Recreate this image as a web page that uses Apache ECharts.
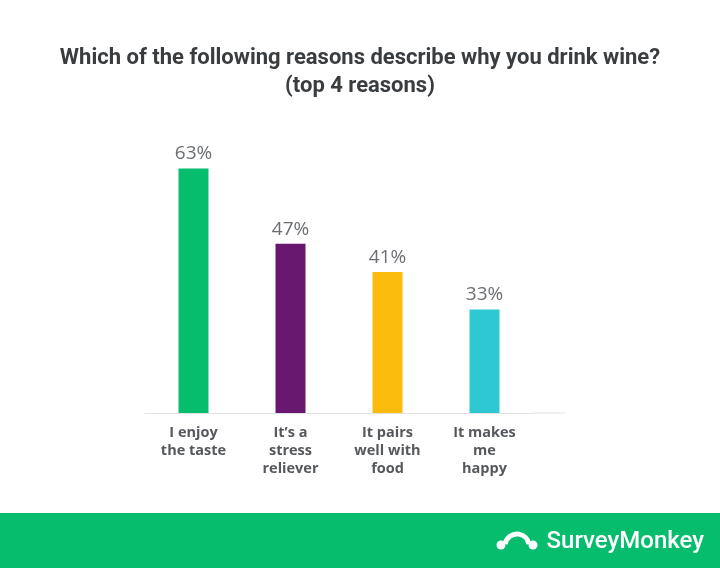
<!DOCTYPE html>
<html>
<head>
<meta charset="utf-8">
<script src="https://cdn.jsdelivr.net/npm/echarts@6/dist/echarts.min.js"></script>
<style>
  html, body { margin: 0; padding: 0; background: #fff; }
  #main { width: 720px; height: 568px; }
</style>
</head>
<body>
<div id="main"></div>
<script>
var categories = ['I enjoy\nthe taste', 'It\u2019s a\nstress\nreliever', 'It pairs\nwell with\nfood', 'It makes\nme\nhappy'];
var values = [63, 47, 41, 33];
var barColors = ['#06bd6e', '#68196f', '#fbbb0c', '#2ec8d2'];

var chartDom = document.getElementById('main');
var myChart = echarts.init(chartDom);
var option;

option = {
    backgroundColor: '#fff',
    animation: false,
    title: {
        text: 'Which of the following reasons describe why you drink wine?\n(top 4 reasons)',
        left: 'center',
        top: 39,
        textStyle: {
            fontFamily: 'Roboto',
            fontWeight: 'bold',
            fontSize: 22,
            color: '#3a3d40',
            lineHeight: 28
        }
    },
    grid: {
        left: 145,
        width: 388,
        top: 145,
        bottom: 155
    },
    xAxis: {
        type: 'category',
        data: categories,
        axisLine: { lineStyle: { color: '#e2e2e2', width: 1 } },
        axisTick: { show: false },
        axisLabel: {
            interval: 0,
            margin: 11,
            fontFamily: 'Open Sans',
            fontWeight: 'bold',
            fontSize: 14.5,
            lineHeight: 18,
            color: '#55585c'
        }
    },
    // the original bars are not drawn from zero
    yAxis: {
        type: 'value',
        min: 11,
        max: 68,
        show: false
    },
    graphic: [
        {
            type: 'line',
            shape: { x1: 533, y1: 413, x2: 565, y2: 413 },
            style: { stroke: '#e2e2e2', lineWidth: 1 }
        },
        {
            type: 'rect',
            shape: { x: 0, y: 513, width: 720, height: 55 },
            style: { fill: '#06bd6e' }
        },
        {
            type: 'text',
            right: 16,
            top: 530,
            style: {
                text: 'SurveyMonkey',
                fill: '#fff',
                font: '500 24px Roboto'
            }
        },
        {
            type: 'arc',
            shape: { cx: 517, cy: 546, r: 12, startAngle: Math.PI * 1.05, endAngle: Math.PI * 1.95 },
            style: { stroke: '#fff', lineWidth: 5, fill: null }
        },
        {
            type: 'circle',
            shape: { cx: 501, cy: 545, r: 4.5 },
            style: { fill: '#fff' }
        },
        {
            type: 'circle',
            shape: { cx: 533, cy: 545, r: 4.5 },
            style: { fill: '#fff' }
        }
    ],
    series: [
        {
            type: 'bar',
            barWidth: 30,
            data: values.map(function (v, i) {
                return { value: v, itemStyle: { color: barColors[i] } };
            }),
            label: {
                show: true,
                position: 'top',
                distance: 5,
                formatter: '{c}%',
                fontFamily: 'Open Sans',
                fontSize: 19,
                color: '#6b6e72'
            }
        }
    ]
};

option && myChart.setOption(option);
window.addEventListener("resize",function(){
    myChart.resize();
});
</script>
</body>
</html>
